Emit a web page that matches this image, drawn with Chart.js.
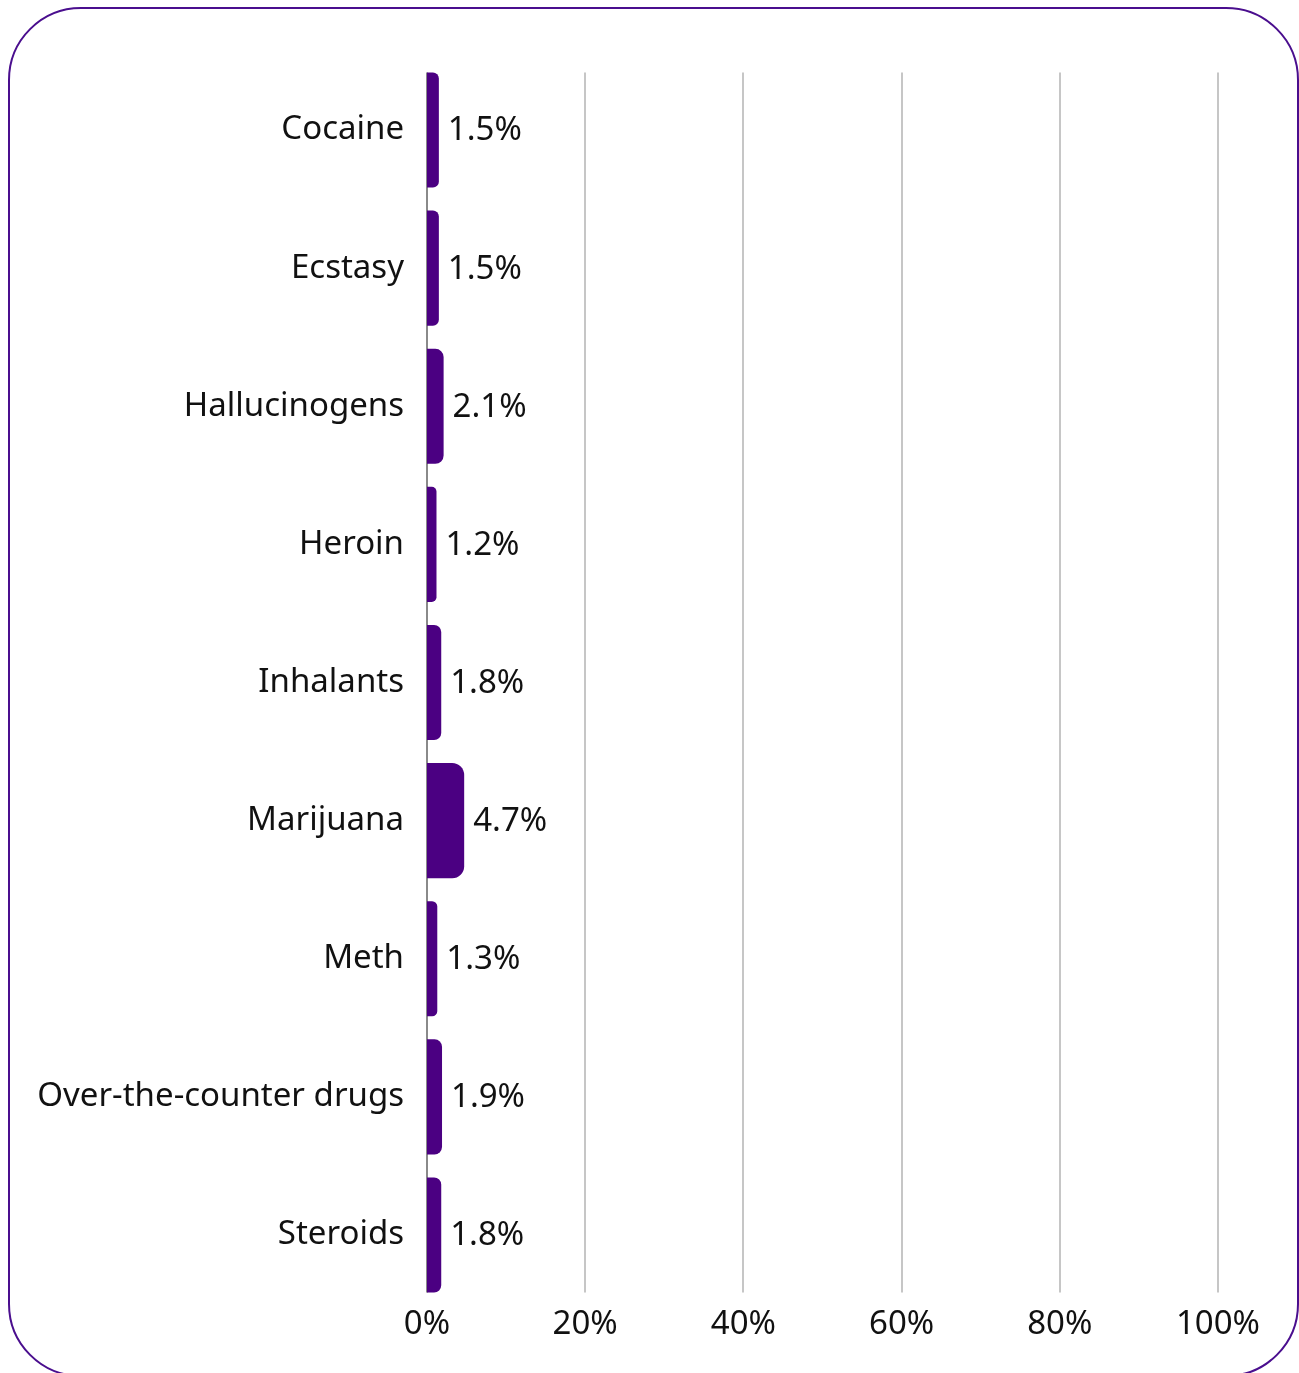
<!DOCTYPE html>
<html>
<head>
<meta charset="utf-8">
<script src="https://cdn.jsdelivr.net/npm/chart.js@4.4.1/dist/chart.umd.min.js"></script>
<style>
  html, body { margin: 0; padding: 0; background: #fff; overflow: hidden; }
  .frame {
    position: absolute; left: 8px; top: 7px; width: 1291px; height: 1370px;
    border: 2px solid #4a0e8e; border-radius: 73px; box-sizing: border-box;
  }
  .wrap { position: absolute; left: 0; top: 0; width: 1299px; height: 1373px; }
</style>
</head>
<body>
<div class="frame"></div>
<div class="wrap"><canvas id="chart" width="1299" height="1373"></canvas></div>
<script>
const categories = ['Cocaine', 'Ecstasy', 'Hallucinogens', 'Heroin', 'Inhalants',
  'Marijuana', 'Meth', 'Over-the-counter drugs', 'Steroids'];
const usage = [1.5, 1.5, 2.1, 1.2, 1.8, 4.7, 1.3, 1.9, 1.8];
const xTicks = [0, 20, 40, 60, 80, 100];

const FONT = '"Noto Sans", "Open Sans", sans-serif';
const FONT_SIZE = 33;
const BAR_PCT = 115 / 138;

// grid + zero line only as tall as the bars themselves
const shortGrid = {
  id: 'shortGrid',
  beforeDatasetsDraw(chart) {
    const { ctx, chartArea, scales } = chart;
    const band = (chartArea.bottom - chartArea.top) / categories.length;
    const inset = band * (1 - BAR_PCT) / 2;
    const top = chartArea.top + inset, bottom = chartArea.bottom - inset;
    ctx.save();
    xTicks.forEach(v => {
      const x = Math.round(scales.x.getPixelForValue(v));
      ctx.strokeStyle = v === 0 ? '#8a8a8a' : '#c6c6c6';
      ctx.lineWidth = 2;
      ctx.beginPath();
      ctx.moveTo(x, top);
      ctx.lineTo(x, bottom);
      ctx.stroke();
    });
    ctx.restore();
  }
};

// value labels to the right of each bar
const valueLabels = {
  id: 'valueLabels',
  afterDatasetsDraw(chart) {
    const { ctx } = chart;
    const meta = chart.getDatasetMeta(0);
    ctx.save();
    ctx.font = FONT_SIZE + 'px ' + FONT;
    ctx.fillStyle = '#111';
    ctx.textAlign = 'left';
    ctx.textBaseline = 'middle';
    meta.data.forEach((bar, i) => {
      ctx.fillText(usage[i].toFixed(1) + '%', bar.x + 9, bar.y + 1);
    });
    ctx.restore();
  }
};

new Chart(document.getElementById('chart'), {
  type: 'bar',
  data: {
    labels: categories,
    datasets: [{
      data: usage,
      backgroundColor: '#4b0082',
      borderRadius: 12,
      borderSkipped: 'start',
      categoryPercentage: 1,
      barPercentage: BAR_PCT,
    }]
  },
  options: {
    indexAxis: 'y',
    responsive: false,
    animation: false,
    layout: { padding: { top: 61, right: 81, left: 0, bottom: 0 } },
    plugins: {
      legend: { display: false },
      tooltip: { enabled: false },
    },
    scales: {
      x: {
        min: 0,
        max: 100,
        afterBuildTicks(axis) { axis.ticks = xTicks.map(v => ({ value: v })); },
        afterFit(axis) { axis.height = 69; },
        grid: { display: false, drawTicks: false },
        border: { display: false },
        ticks: {
          padding: 1,
          color: '#111',
          font: { family: FONT, size: FONT_SIZE },
          callback: v => v + '%',
        },
      },
      y: {
        afterFit(axis) { axis.width = 427; },
        grid: { display: false, drawTicks: false },
        border: { display: false },
        ticks: {
          padding: 23,
          color: '#111',
          font: { family: FONT, size: FONT_SIZE },
        },
      },
    },
  },
  plugins: [shortGrid, valueLabels],
});
</script>
</body>
</html>
